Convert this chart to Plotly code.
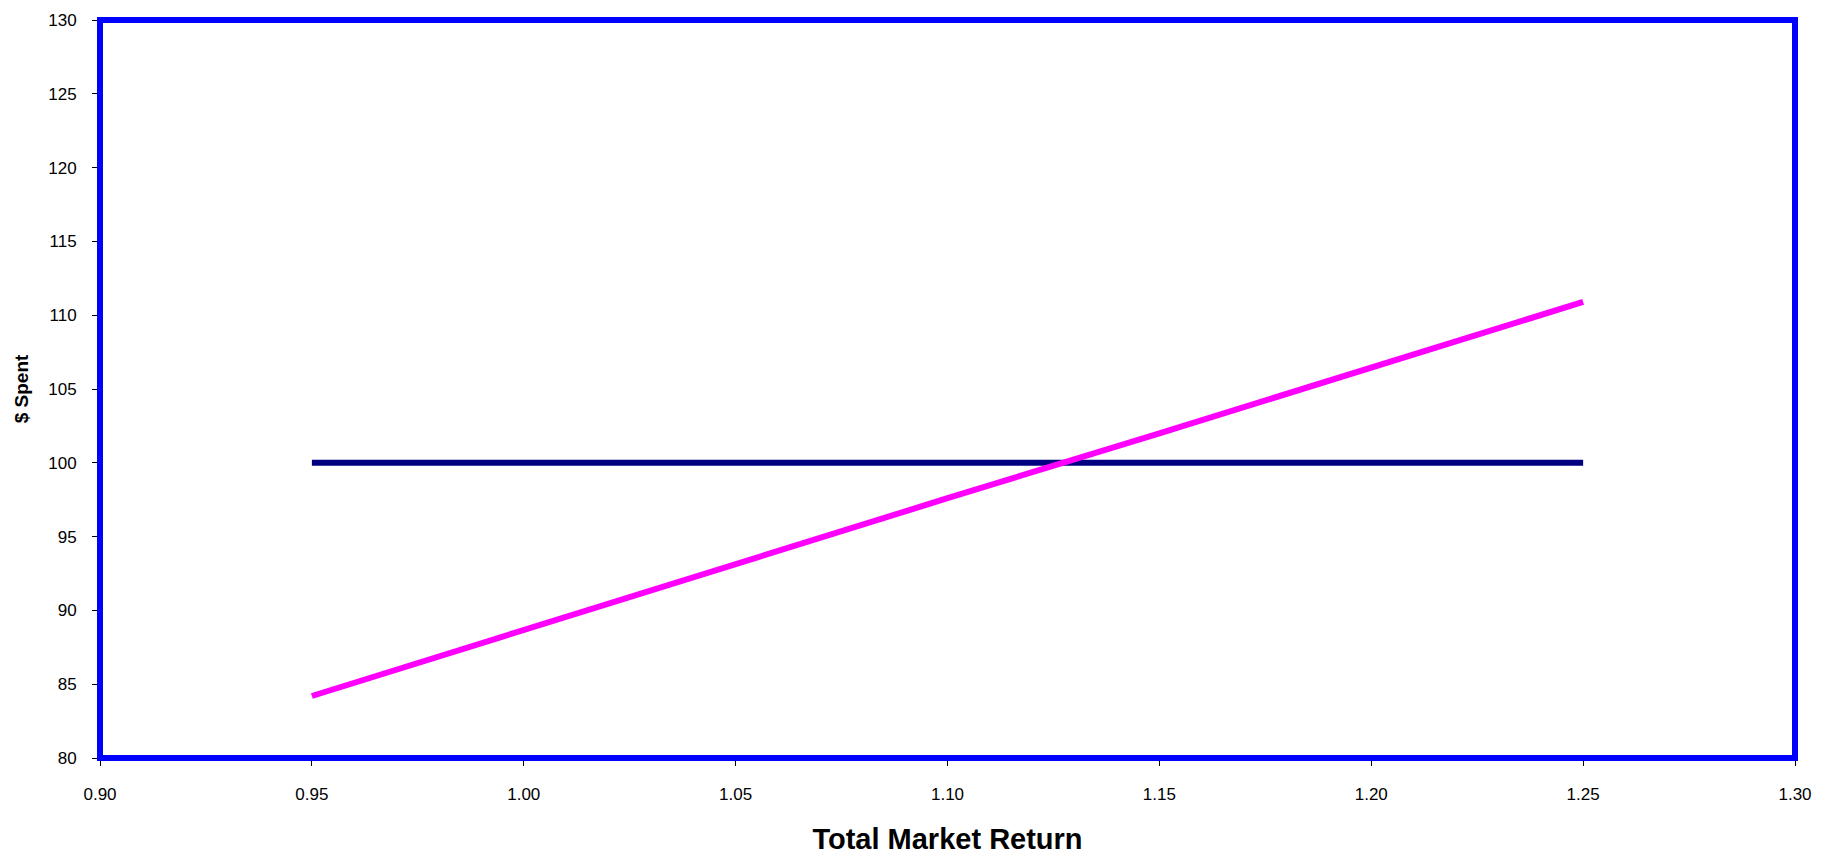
import plotly.graph_objects as go

# Total market return (x) against dollars spent under two strategies
market_return = [0.95, 1.00, 1.05, 1.10, 1.15, 1.20, 1.25]
fixed_spend = [100, 100, 100, 100, 100, 100, 100]
variable_spend = [84.2, 88.7, 93.1, 97.6, 102.0, 106.5, 110.9]

x_ticks = [0.90, 0.95, 1.00, 1.05, 1.10, 1.15, 1.20, 1.25, 1.30]
y_ticks = [80, 85, 90, 95, 100, 105, 110, 115, 120, 125, 130]

font_family = "Liberation Sans, Arial, sans-serif"

fig = go.Figure()
fig.add_trace(go.Scatter(
    x=market_return, y=fixed_spend, mode="lines",
    line=dict(color="#000080", width=6), name="Fixed",
))
fig.add_trace(go.Scatter(
    x=market_return, y=variable_spend, mode="lines",
    line=dict(color="#FF00FF", width=6), name="Variable",
))

fig.update_layout(
    width=1839, height=855,
    margin=dict(l=100, r=44, t=20, b=97),
    paper_bgcolor="white", plot_bgcolor="white",
    showlegend=False,
    font=dict(family=font_family, size=17, color="black"),
    shapes=[dict(
        type="rect", xref="paper", yref="paper", x0=0, x1=1, y0=0, y1=1,
        line=dict(color="#0000FF", width=6), layer="above",
    )],
)

fig.update_xaxes(
    range=[0.90, 1.30], tickvals=x_ticks,
    ticktext=[f"{v:.2f}" for v in x_ticks],
    showgrid=False, zeroline=False, automargin=False,
    showline=True, linecolor="black", linewidth=1,
    ticks="outside", ticklen=7, tickcolor="black",
    ticklabelstandoff=14,
    title=dict(text="<b>Total Market Return</b>",
               font=dict(size=29, family=font_family), standoff=28),
)
fig.update_yaxes(
    range=[80, 130], tickvals=y_ticks,
    showgrid=False, zeroline=False, automargin=False,
    showline=True, linecolor="black", linewidth=1,
    ticks="outside", ticklen=7, tickcolor="black",
    ticklabelstandoff=12,
    title=dict(text="<b>$ Spent</b>",
               font=dict(size=19, family=font_family), standoff=14),
)

fig.write_html("out.html")
